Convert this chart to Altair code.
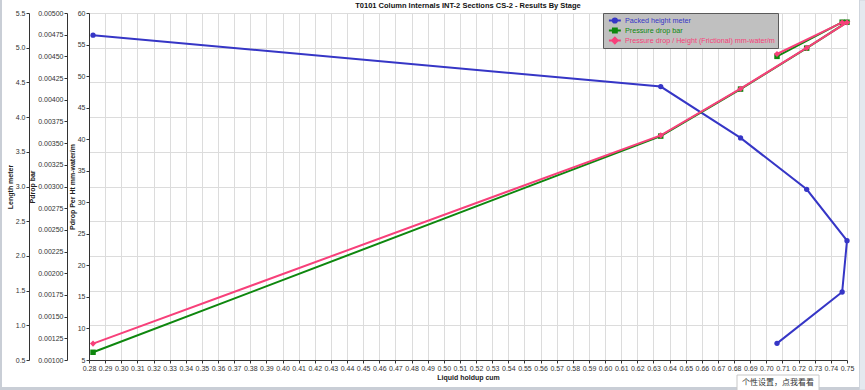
import altair as alt
import pandas as pd

# ---- data ----
stages = [1, 2, 3, 4, 5, 6, 7]
liquid_holdup = [0.2825, 0.6345, 0.684, 0.725, 0.750, 0.747, 0.7066]
packed_height = [5.18, 4.44, 3.70, 2.96, 2.22, 1.48, 0.74]
pressure_drop = [0.001089, 0.003581, 0.004123, 0.004595, 0.004894, 0.004894, 0.00450]
pdrop_per_height = [7.6, 40.6, 48.0, 54.46, 58.5, 58.5, 53.5]

series_names = ["Packed height meter", "Pressure drop bar",
                "Pressure drop / Height (Frictional) mm-water/m"]
series_colors = ["#3636c6", "#0e870e", "#f7407a"]

x_ticks = [0.28, 0.29, 0.30, 0.31, 0.32, 0.33, 0.34, 0.35, 0.36, 0.37, 0.38, 0.39,
           0.40, 0.41, 0.42, 0.43, 0.44, 0.45, 0.46, 0.47, 0.48, 0.49, 0.50, 0.51,
           0.52, 0.53, 0.54, 0.55, 0.56, 0.57, 0.58, 0.59, 0.60, 0.61, 0.62, 0.63,
           0.64, 0.65, 0.66, 0.67, 0.68, 0.69, 0.70, 0.71, 0.72, 0.73, 0.74, 0.75]
length_ticks = [0.5, 1.0, 1.5, 2.0, 2.5, 3.0, 3.5, 4.0, 4.5, 5.0, 5.5]
pdrop_ticks = [0.001, 0.00125, 0.0015, 0.00175, 0.002, 0.00225, 0.0025, 0.00275,
               0.003, 0.00325, 0.0035, 0.00375, 0.004, 0.00425, 0.0045, 0.00475, 0.005]
pdrop_ht_ticks = [5, 10, 15, 20, 25, 30, 35, 40, 45, 50, 55, 60]

title_text = "T0101 Column Internals INT-2 Sections CS-2 - Results By Stage"
tip_text = "个性设置，点我看看"

FONT = "Liberation Sans"

df = pd.DataFrame({
    "stage": stages,
    "holdup": liquid_holdup,
    "length": packed_height,
    "pdrop": pressure_drop,
    "pdrop_ht": pdrop_per_height,
})

# legend glyphs: a short line with the series marker (unit square coordinates)
legend_paths = [
    "M-0.45,0H2.95M1.85,0A0.6,0.6,0,1,1,0.65,0A0.6,0.6,0,1,1,1.85,0Z",
    "M-0.45,0H2.95M0.7,-0.55H1.8V0.55H0.7Z",
    "M-0.45,0H2.95M1.25,-0.8L2.05,0L1.25,0.8L0.45,0Z",
]


def pick(values):
    return alt.expr(f"datum.value === '{series_names[0]}' ? '{values[0]}' : "
                    f"datum.value === '{series_names[1]}' ? '{values[1]}' : '{values[2]}'")


def make_legend(fancy):
    kw = dict(title=None, orient="none", legendX=514, legendY=0,
              fillColor="#c0c0c0", strokeColor="#5a5a5a", padding=3,
              labelFont=FONT, labelFontSize=7.2, labelColor="#333333",
              rowPadding=1, clipHeight=9, symbolSize=49, symbolStrokeWidth=2,
              labelOffset=10, symbolType="stroke")
    if fancy:
        kw.update(labelColor=pick(series_colors), symbolType=pick(legend_paths),
                  symbolFillColor=pick(series_colors),
                  symbolStrokeColor=pick(series_colors))
    return alt.Legend(**kw)


def build(fancy):
    x_enc = alt.X("holdup:Q",
                  scale=alt.Scale(domain=[0.28, 0.75], nice=False, zero=False),
                  axis=alt.Axis(values=x_ticks, format=".2f", title="Liquid holdup cum",
                                grid=True, labelOverlap=False, labelFlush=False))
    color_enc = alt.Color("series:N",
                          scale=alt.Scale(domain=series_names, range=series_colors),
                          legend=make_legend(fancy))

    def layer(col, name, shape, size, domain, axis):
        return alt.Chart(df).transform_calculate(
            series=f"'{name}'"
        ).mark_line(
            strokeWidth=2,
            point=alt.OverlayMarkDef(shape=shape, size=size, filled=True, opacity=1),
        ).encode(
            x=x_enc,
            y=alt.Y(f"{col}:Q", scale=alt.Scale(domain=domain, nice=False, zero=False),
                    axis=axis),
            color=color_enc,
            order=alt.Order("stage:Q"),
        )

    blue = layer("length", series_names[0], "circle", 28, [0.5, 5.5],
                 alt.Axis(orient="left", offset=60, values=length_ticks, format=".1f",
                          title="Length meter", grid=True))
    green = layer("pdrop", series_names[1], "square", 30, [0.001, 0.005],
                  alt.Axis(orient="left", offset=22, values=pdrop_ticks, format=".5f",
                           title="Pdrop bar", grid=False))
    pink = layer("pdrop_ht", series_names[2], "diamond", 38, [5, 60],
                 alt.Axis(orient="left", offset=0, values=pdrop_ht_ticks, format="d",
                          title="Pdrop Per Ht mm-water/m", grid=False))

    # window frame seen around the reference screenshot (decoration)
    frame_df = pd.DataFrame({"k": [0]})
    frame_left = alt.Chart(frame_df).mark_rect(fill="#c9ced6").encode(
        x=alt.value(-89), x2=alt.value(-87), y=alt.value(-13), y2=alt.value(377))
    frame_bottom = alt.Chart(frame_df).mark_rect(fill="#c9ced6").encode(
        x=alt.value(-89), x2=alt.value(770), y=alt.value(374), y2=alt.value(377))
    frame_right = alt.Chart(frame_df).mark_rect(fill="#e4e9ef", stroke="#cfd5dd",
                                                 strokeWidth=1).encode(
        x=alt.value(770.5), x2=alt.value(777), y=alt.value(-13), y2=alt.value(377))

    tip_df = pd.DataFrame({"t": [tip_text]})
    tip_box = alt.Chart(tip_df).mark_rect(
        fill="white", stroke="#c8c8c8", strokeWidth=1
    ).encode(x=alt.value(648), x2=alt.value(730), y=alt.value(362), y2=alt.value(378))
    tip = alt.Chart(tip_df).mark_text(
        font="Noto Sans CJK SC", fontSize=8, color="#333333", align="center",
        baseline="middle"
    ).encode(text="t:N", x=alt.value(689), y=alt.value(369.5))

    chart = alt.layer(blue, green, pink, frame_left, frame_bottom, frame_right,
                      tip_box, tip).resolve_scale(
        y="independent"
    ).properties(
        width=758, height=347,
        autosize=alt.AutoSizeParams(type="none"),
        padding={"left": 89, "top": 13, "right": 18, "bottom": 30},
        title=alt.TitleParams(title_text, font=FONT, fontSize=7.5, fontWeight="bold",
                              color="#111111", anchor="middle", offset=-10,
                              frame="group"),
        background="white",
    ).configure_axis(
        labelFont=FONT, labelFontSize=7, labelColor="#333333",
        domainColor="#333333", tickColor="#333333", tickSize=3, labelPadding=1,
        titleFont=FONT, titleFontSize=7, titleFontWeight="bold", titleColor="#222222",
        titlePadding=2, gridColor="#dcdcdc", gridWidth=1,
    ).configure_view(stroke=None)
    return chart


try:
    chart = build(True)
    chart.to_dict()
except Exception:
    chart = build(False)

chart.save("out.html", embed_options={"renderer": "svg", "actions": False})
